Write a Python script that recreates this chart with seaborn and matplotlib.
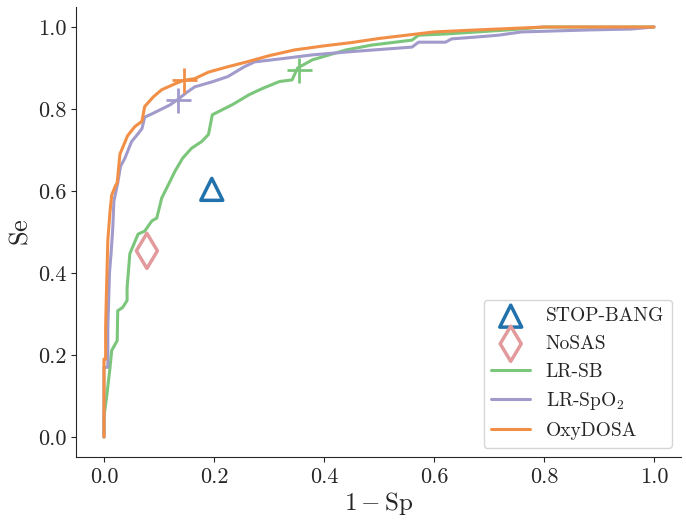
import pandas as pd
import seaborn as sns
import matplotlib.pyplot as plt

# ROC curves (1 - Sp, Se)
oxy_fpr = [0, 0, 0.003, 0.003, 0.005, 0.007, 0.011, 0.014, 0.02, 0.024, 0.029, 0.043, 0.056,
           0.069, 0.074, 0.09, 0.105, 0.13, 0.145, 0.165, 0.19, 0.225, 0.26, 0.30, 0.346,
           0.40, 0.45, 0.50, 0.55, 0.60, 0.68, 0.75, 0.80, 1.0]
oxy_tpr = [0, 0.19, 0.19, 0.27, 0.38, 0.48, 0.55, 0.59, 0.61, 0.62, 0.69, 0.735, 0.757,
           0.77, 0.806, 0.83, 0.847, 0.862, 0.87, 0.874, 0.89, 0.903, 0.915, 0.93, 0.944,
           0.954, 0.962, 0.972, 0.98, 0.988, 0.993, 0.997, 1.0, 1.0]

spo2_fpr = [0, 0, 0.007, 0.007, 0.01, 0.013, 0.016, 0.018, 0.025, 0.03, 0.038, 0.05, 0.062,
            0.069, 0.074, 0.09, 0.105, 0.12, 0.134, 0.15, 0.165, 0.196, 0.225, 0.255, 0.274,
            0.319, 0.379, 0.45, 0.56, 0.572, 0.621, 0.632, 0.681, 0.717, 0.759, 0.886, 0.958, 1.0]
spo2_tpr = [0, 0.17, 0.17, 0.27, 0.40, 0.45, 0.51, 0.575, 0.62, 0.66, 0.68, 0.72, 0.74,
            0.752, 0.78, 0.79, 0.80, 0.81, 0.823, 0.84, 0.854, 0.866, 0.879, 0.903, 0.915,
            0.922, 0.932, 0.94, 0.951, 0.963, 0.963, 0.971, 0.976, 0.98, 0.988, 0.993, 0.995, 1.0]

sb_fpr = [0, 0, 0.005, 0.011, 0.014, 0.024, 0.025, 0.034, 0.042, 0.042, 0.047, 0.062, 0.074,
          0.087, 0.096, 0.105, 0.114, 0.129, 0.143, 0.159, 0.178, 0.19, 0.197, 0.234, 0.264,
          0.288, 0.319, 0.342, 0.352, 0.379, 0.44, 0.487, 0.56, 0.572, 0.621, 0.736, 0.80, 1.0]
sb_tpr = [0, 0.05, 0.10, 0.17, 0.211, 0.235, 0.308, 0.316, 0.333, 0.364, 0.447, 0.495, 0.502,
          0.527, 0.534, 0.583, 0.607, 0.648, 0.68, 0.704, 0.721, 0.738, 0.786, 0.811, 0.835,
          0.85, 0.867, 0.871, 0.90, 0.92, 0.944, 0.956, 0.968, 0.98, 0.983, 0.993, 1.0, 1.0]

# operating points
op_names = ["LR-SB", "LR-SpO2", "OxyDOSA"]
op_fpr = [0.355, 0.134, 0.145]
op_tpr = [0.896, 0.823, 0.871]

stopbang = (0.196, 0.604)
nosas = (0.078, 0.454)

c_blue = "#2172ac"
c_pink = "#e29a9c"
c_green = "#7bc67b"
c_purple = "#a19bcb"
c_orange = "#f28f47"

sns.set_style("ticks")
plt.rcParams['font.family'] = 'serif'
plt.rcParams['font.serif'] = ['cmr10']
plt.rcParams['mathtext.fontset'] = 'cm'
plt.rcParams['axes.unicode_minus'] = False

fig, ax = plt.subplots(figsize=(6.86, 5.25), dpi=100)
fig.subplots_adjust(left=0.1115, right=0.9934, bottom=0.1286, top=0.9876)

sns.scatterplot(x=[stopbang[0]], y=[stopbang[1]], marker='^', s=250, facecolor='none',
                edgecolor=c_blue, linewidth=2.5, label='STOP-BANG', ax=ax, zorder=5)
sns.scatterplot(x=[nosas[0]], y=[nosas[1]], marker='d', s=320, facecolor='none',
                edgecolor=c_pink, linewidth=2.5, label='NoSAS', ax=ax, zorder=5)

curves = [(sb_fpr, sb_tpr, c_green, 'LR-SB'),
          (spo2_fpr, spo2_tpr, c_purple, r'LR-SpO$_2$'),
          (oxy_fpr, oxy_tpr, c_orange, 'OxyDOSA')]
for (fx, ty, col, lab), ox, oy in zip(curves, op_fpr, op_tpr):
    sns.lineplot(x=fx, y=ty, sort=False, estimator=None, color=col, lw=2.2, label=lab, ax=ax)
    ax.plot(ox, oy, marker='+', ms=18, mew=2, color=col, ls='none')

ax.set_xlim(-0.05, 1.05)
ax.set_ylim(-0.05, 1.05)
ax.set_xticks([0, 0.2, 0.4, 0.6, 0.8, 1.0])
ax.set_yticks([0, 0.2, 0.4, 0.6, 0.8, 1.0])
ax.tick_params(labelsize=16)
ax.set_xlabel(r'$1-\mathrm{Sp}$', fontsize=18, labelpad=2)
ax.set_ylabel(r'$\mathrm{Se}$', fontsize=19)
ax.legend(loc='lower right', fontsize=14)
sns.despine()

plt.savefig('out.png')
